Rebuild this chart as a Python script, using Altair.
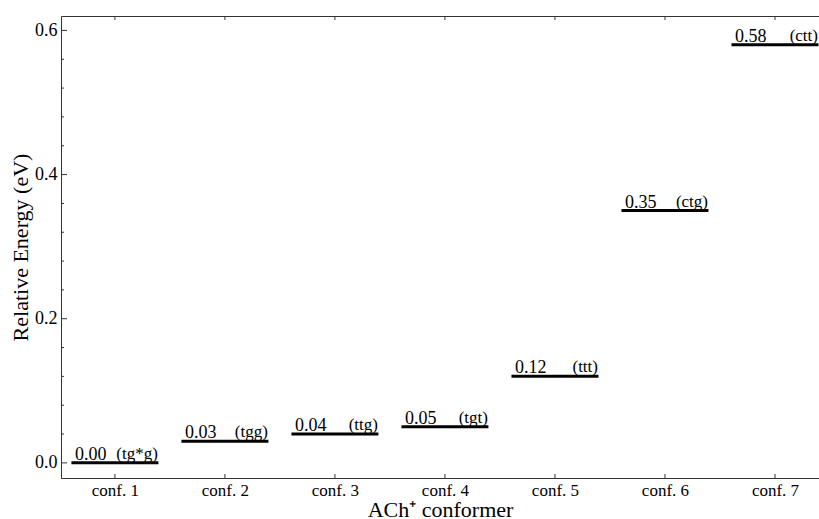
import altair as alt
import pandas as pd

confs = [1, 2, 3, 4, 5, 6, 7]
energies = [0.00, 0.03, 0.04, 0.05, 0.12, 0.35, 0.58]
names = ["(tg*g)", "(tgg)", "(ttg)", "(tgt)", "(ttt)", "(ctg)", "(ctt)"]
value_labels = ["0.00", "0.03", "0.04", "0.05", "0.12", "0.35", "0.58"]
y_major = [0.0, 0.2, 0.4, 0.6]
y_minor = [0.04, 0.08, 0.12, 0.16, 0.24, 0.28, 0.32, 0.36, 0.44, 0.48, 0.52, 0.56]

W, H = 758, 462

df = pd.DataFrame({"conf": confs, "energy": energies, "name": names, "val": value_labels})
major_df = pd.DataFrame({"y": y_major})
minor_df = pd.DataFrame({"y": y_minor})
xt_df = pd.DataFrame({"conf": confs})

FONT = "Liberation Serif"
AX = "#333"
xs = alt.Scale(domain=[0.51, 7.4], nice=False, zero=False)
ys = alt.Scale(domain=[-0.021, 0.62], nice=False, zero=False)

yaxis = alt.Axis(
    values=y_major,
    format=".1f",
    ticks=False,
    title="Relative Energy (eV)",
    grid=False,
    labelFont=FONT, titleFont=FONT,
    labelFontSize=18, labelPadding=4,
    titleFontSize=22, titleBaseline="alphabetic", titleX=-34, titleAngle=270,
)

xaxis_bottom = alt.Axis(
    values=confs,
    labelExpr="'conf. ' + datum.value",
    ticks=False,
    title="ACh\u207a conformer",
    grid=False,
    labelFont=FONT, titleFont=FONT,
    labelFontSize=17, labelPadding=4,
    titleFontSize=22, titleBaseline="alphabetic", titleY=38,
)

xaxis_top = alt.Axis(
    values=confs, orient="top", labels=False, title=None,
    ticks=False, grid=False,
)

base = alt.Chart(df)

levels = base.mark_tick(orient="horizontal", size=87, thickness=3, color="black", opacity=1).encode(
    x=alt.X("conf:Q", scale=xs, axis=xaxis_bottom),
    y=alt.Y("energy:Q", scale=ys, axis=yaxis),
)

vals = base.mark_text(align="left", baseline="alphabetic", dx=-40, dy=-3,
                      font=FONT, fontSize=18, color="black").encode(
    x=alt.X("conf:Q", scale=xs, axis=xaxis_top),
    y=alt.Y("energy:Q", scale=ys),
    text="val:N",
)

nms = base.mark_text(align="right", baseline="alphabetic", dx=43, dy=-4,
                     font=FONT, fontSize=17, color="black").encode(
    x=alt.X("conf:Q", scale=xs, axis=None),
    y=alt.Y("energy:Q", scale=ys),
    text="name:N",
)

ymaj = alt.Chart(major_df).mark_rule(color=AX, strokeWidth=1).encode(
    x=alt.value(0), x2=alt.value(6),
    y=alt.Y("y:Q", scale=ys),
)
ymin = alt.Chart(minor_df).mark_rule(color=AX, strokeWidth=1).encode(
    x=alt.value(0), x2=alt.value(3),
    y=alt.Y("y:Q", scale=ys),
)
xbot = alt.Chart(xt_df).mark_rule(color=AX, strokeWidth=1).encode(
    x=alt.X("conf:Q", scale=xs, axis=None),
    y=alt.value(H - 4), y2=alt.value(H),
)
xtop = alt.Chart(xt_df).mark_rule(color=AX, strokeWidth=1).encode(
    x=alt.X("conf:Q", scale=xs, axis=None),
    y=alt.value(0), y2=alt.value(4),
)

chart = alt.layer(levels, vals, nms, ymaj, ymin, xbot, xtop).resolve_axis(x="independent").properties(
    width=W, height=H,
    autosize=alt.AutoSizeParams(type="none"),
    padding={"left": 61, "top": 16, "right": 0, "bottom": 41},
).configure_view(stroke=None).configure(background="white").configure_axis(
    labelFont=FONT, titleFont=FONT, labelColor="black", titleColor="black",
    titleFontWeight="normal", domainColor=AX, grid=False,
)

chart.save("out.html", embed_options={"renderer": "svg", "actions": False})
